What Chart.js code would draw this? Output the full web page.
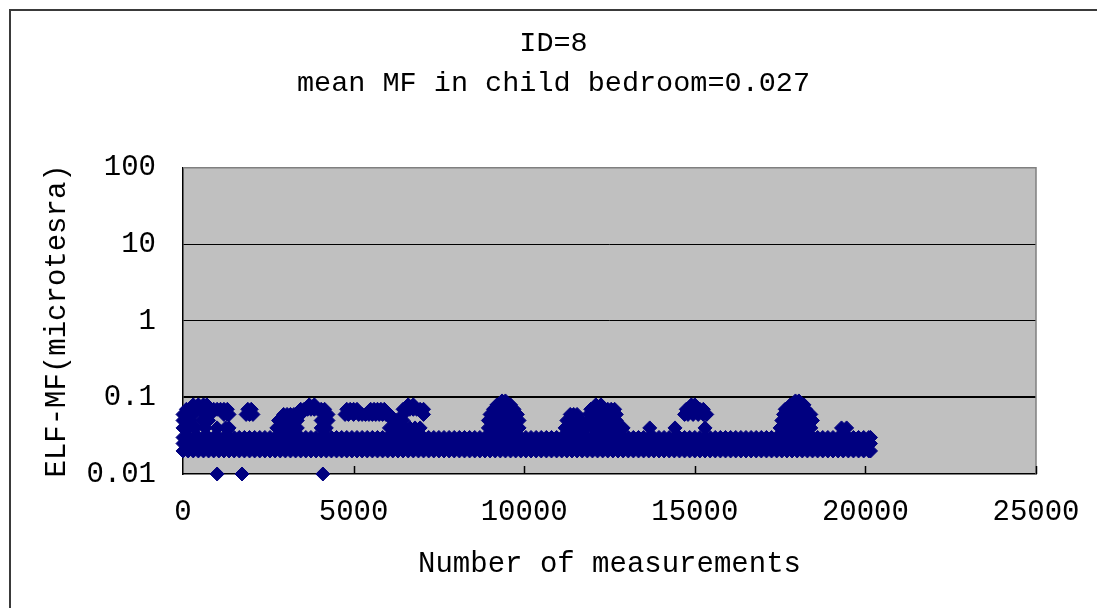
<!DOCTYPE html>
<html>
<head>
<meta charset="utf-8">
<script src="https://cdn.jsdelivr.net/npm/chart.js@4"></script>
<style>
  html, body { margin: 0; padding: 0; background: #fff; }
  #wrap { position: relative; width: 1097px; height: 608px; overflow: hidden; }
  #frame { position: absolute; left: 9px; top: 9px; right: -4px; bottom: -4px;
           border-top: 2px solid #3a3a3a; border-left: 2px solid #3a3a3a; }
  canvas { position: absolute; left: 0; top: 0; }
</style>
</head>
<body>
<div id="wrap">
  <div id="frame"></div>
  <canvas id="chart" width="1097" height="608"></canvas>
</div>
<script>
'use strict';

const TITLE_LINES = ['ID=8', 'mean MF in child bedroom=0.027'];
const X_TITLE = 'Number of measurements';
const Y_TITLE = 'ELF-MF(microtesra)';
const X_TICKS = [0, 5000, 10000, 15000, 20000, 25000];
const Y_TICKS = [0.01, 0.1, 1, 10, 100];

// the solid band: readings between 0.02 and 0.03 for the whole run
const BAND_LEVELS = [0.02, 0.025, 0.03];
const BAND_X = [
  0, 150, 300, 450, 600, 750, 900, 1050, 1200, 1350,
  1500, 1650, 1800, 1950, 2100, 2250, 2400, 2550, 2700, 2850,
  3000, 3150, 3300, 3450, 3600, 3750, 3900, 4050, 4200, 4350,
  4500, 4650, 4800, 4950, 5100, 5250, 5400, 5550, 5700, 5850,
  6000, 6150, 6300, 6450, 6600, 6750, 6900, 7050, 7200, 7350,
  7500, 7650, 7800, 7950, 8100, 8250, 8400, 8550, 8700, 8850,
  9000, 9150, 9300, 9450, 9600, 9750, 9900, 10050, 10200, 10350,
  10500, 10650, 10800, 10950, 11100, 11250, 11400, 11550, 11700, 11850,
  12000, 12150, 12300, 12450, 12600, 12750, 12900, 13050, 13200, 13350,
  13500, 13650, 13800, 13950, 14100, 14250, 14400, 14550, 14700, 14850,
  15000, 15150, 15300, 15450, 15600, 15750, 15900, 16050, 16200, 16350,
  16500, 16650, 16800, 16950, 17100, 17250, 17400, 17550, 17700, 17850,
  18000, 18150, 18300, 18450, 18600, 18750, 18900, 19050, 19200, 19350,
  19500, 19650, 19800, 19950, 20100, 20150
];

// sparse readings above / below the band, one list of x positions per level
const X_AT_001 = [1000, 1730, 4100];
const X_AT_004 = [0, 150, 350, 650, 1000, 1250, 1350, 2750, 2900, 3050, 3200, 3350, 4050, 4200,
  6050, 6200, 6350, 6500, 6650, 6800, 6950, 8950, 9100, 9250, 9400, 9550, 9700, 9850,
  11200, 11350, 11500, 11650, 11800, 12000, 12150, 12300, 12450, 12600, 12750, 12900,
  13680, 14420, 15300, 17500, 17650, 17800, 17950, 18100, 18250, 18400, 19300, 19450];
const X_AT_005 = [0, 100, 200, 550, 650, 750, 2800, 2900, 3000, 3100, 3200, 3300, 3350,
  4050, 4150, 4250, 6150, 6250, 6350, 6450, 8950, 9050, 9150, 9250, 9350, 9450, 9550, 9650,
  9750, 9850, 11250, 11350, 11550, 11650, 11900, 12000, 12100, 12200, 12300, 12400, 12500,
  12600, 12700, 17550, 17650, 17750, 17850, 17950, 18050, 18150, 18250, 18350, 18450];
const X_AT_006 = [0, 100, 200, 300, 700, 800, 1200, 1300, 1350, 1850, 1950, 2050, 2950, 3050,
  3150, 3250, 3450, 4150, 4250, 4750, 4850, 5000, 5150, 5250, 5350, 5450, 5550, 5650, 5750,
  5850, 5950, 6050, 6450, 7050, 9000, 9100, 9200, 9300, 9400, 9500, 9600, 9700, 9800,
  11350, 11450, 11550, 11900, 12000, 12100, 12200, 12300, 12400, 12500, 12600, 12700,
  14700, 14800, 14950, 15100, 15250, 15350, 17600, 17700, 17800, 17900, 18000, 18100,
  18200, 18300, 18400];
const X_AT_007 = [100, 200, 300, 400, 500, 600, 700, 800, 900, 1000, 1100, 1200, 1300, 1900,
  2000, 3450, 3550, 3650, 3750, 3850, 3950, 4050, 4150, 4800, 4900, 5000, 5100, 5500, 5600,
  5700, 5800, 5900, 6450, 6550, 6650, 6750, 6850, 6950, 7050, 9100, 9200, 9300, 9400, 9500,
  9600, 9700, 11950, 12050, 12150, 12250, 12350, 12450, 12550, 12650, 14750, 14850, 14950,
  15050, 15150, 15250, 17650, 17750, 17850, 17950, 18050, 18150, 18250];
const X_AT_008 = [300, 450, 600, 700, 3700, 3850, 6600, 6750, 9200, 9300, 9400, 9500, 9600,
  12100, 12250, 14900, 15000, 17800, 17900, 18000, 18100, 18200];
const X_AT_009 = [9350, 9450, 17950, 18050];

const points = [];
BAND_LEVELS.forEach(lv => BAND_X.forEach(x => points.push({ x, y: lv })));
[[0.01, X_AT_001], [0.04, X_AT_004], [0.05, X_AT_005], [0.06, X_AT_006],
 [0.07, X_AT_007], [0.08, X_AT_008], [0.09, X_AT_009]]
  .forEach(([lv, xs]) => xs.forEach(x => points.push({ x, y: lv })));

/* ---- look ---- */
const FONT = "'Liberation Mono', 'DejaVu Sans Mono', monospace";
const MARKER = '#000080';
const PLOT_BG = '#c0c0c0';

Chart.defaults.font.family = FONT;
Chart.defaults.color = '#000';

// grey plot background, grey top/right edges, short inward ticks on the x axis
const plotFrame = {
  id: 'plotFrame',
  beforeDraw(chart) {
    const { ctx, chartArea: a } = chart;
    ctx.save();
    ctx.fillStyle = PLOT_BG;
    ctx.fillRect(a.left, a.top, a.right - a.left, a.bottom - a.top);
    ctx.restore();
  },
  beforeDatasetsDraw(chart) {
    const { ctx, chartArea: a, scales } = chart;
    ctx.save();
    ctx.strokeStyle = '#808080';
    ctx.lineWidth = 1.5;
    ctx.beginPath();
    ctx.moveTo(a.left, a.top);
    ctx.lineTo(a.right, a.top);
    ctx.lineTo(a.right, a.bottom);
    ctx.stroke();
    ctx.strokeStyle = '#000';
    ctx.lineWidth = 1.5;
    X_TICKS.slice(1).forEach(v => {
      const px = Math.round(scales.x.getPixelForValue(v)) + 0.5;
      ctx.beginPath();
      ctx.moveTo(px, a.bottom);
      ctx.lineTo(px, a.bottom - 8);
      ctx.stroke();
    });
    ctx.restore();
  }
};

new Chart(document.getElementById('chart'), {
  type: 'scatter',
  data: {
    datasets: [{
      data: points,
      pointStyle: 'rectRot',
      pointRadius: 7,
      borderWidth: 1,
      backgroundColor: MARKER,
      borderColor: MARKER,
      clip: false,
    }],
  },
  options: {
    responsive: false,
    animation: false,
    events: [],
    layout: { padding: { left: 10, top: 0, right: 0, bottom: 0 } },
    plugins: {
      legend: { display: false },
      tooltip: { enabled: false },
      title: {
        display: true,
        text: TITLE_LINES,
        color: '#000',
        font: { size: 28.5, weight: 'normal', lineHeight: 1.4 },
        padding: { top: 24, bottom: 64 },
      },
    },
    scales: {
      x: {
        type: 'linear',
        min: 0,
        max: 25000,
        afterBuildTicks: s => { s.ticks = X_TICKS.map(v => ({ value: v })); },
        afterFit: s => { s.height = 134; s.paddingRight = 61; s.paddingLeft = 0; },
        grid: { drawOnChartArea: false, drawTicks: false },
        border: { display: true, color: '#000', width: 1.5 },
        ticks: { padding: 21, maxRotation: 0, font: { size: 29 }, callback: v => String(v) },
        title: { display: true, text: X_TITLE, font: { size: 29 }, padding: { top: 0, bottom: 26 } },
      },
      y: {
        type: 'logarithmic',
        min: 0.01,
        max: 100,
        afterBuildTicks: s => { s.ticks = Y_TICKS.map(v => ({ value: v })); },
        afterFit: s => { s.width = 173; },
        grid: {
          drawTicks: false,
          color: c => (c.tick && (c.tick.value === 100 || c.tick.value === 0.01)) ? 'rgba(0,0,0,0)' : '#000',
          lineWidth: c => (c.tick && c.tick.value === 0.1) ? 2 : 1,
        },
        border: { display: true, color: '#000', width: 1.5 },
        ticks: { padding: 27, font: { size: 29 }, callback: v => String(v) },
        title: { display: true, text: Y_TITLE, font: { size: 29 }, padding: { top: 30, bottom: 0 } },
      },
    },
  },
  plugins: [plotFrame],
});
</script>
</body>
</html>
